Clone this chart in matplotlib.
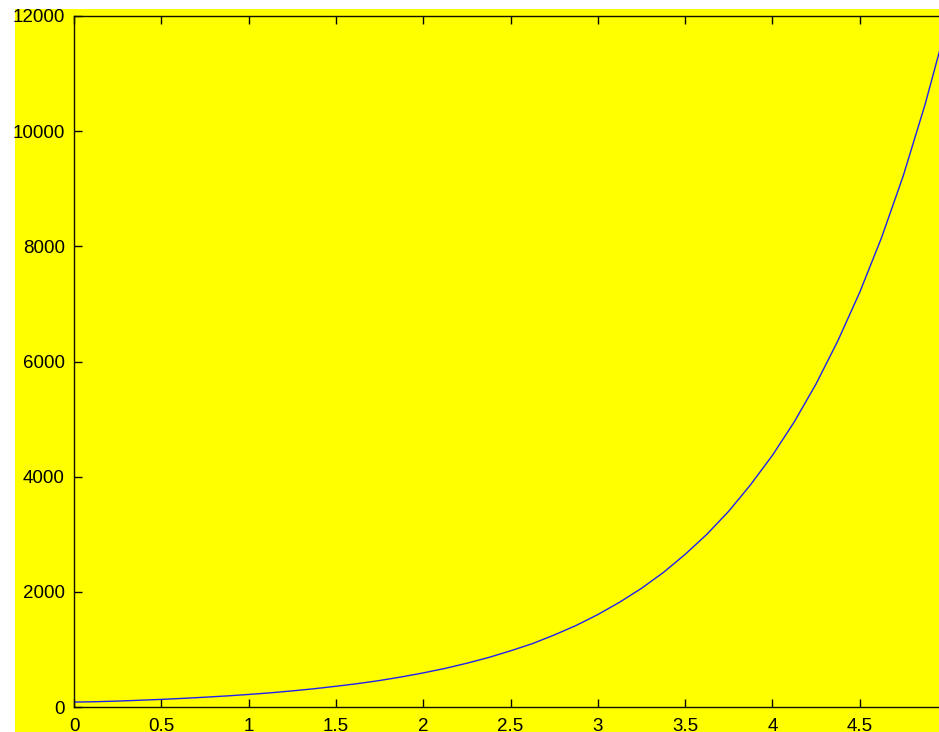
import numpy as np
import matplotlib
matplotlib.use('Agg')
import matplotlib.pyplot as plt
from matplotlib.patches import Rectangle

# values
x_vals = [0, 0.125, 0.25, 0.375, 0.5, 0.625, 0.75, 0.875, 1, 1.125, 1.25, 1.375,
          1.5, 1.625, 1.75, 1.875, 2, 2.125, 2.25, 2.375, 2.5, 2.625, 2.75, 2.875,
          3, 3.125, 3.25, 3.375, 3.5, 3.625, 3.75, 3.875, 4, 4.125, 4.25, 4.375,
          4.5, 4.625, 4.75, 4.875, 5]
y_vals = [85, 92, 103, 117, 132, 150, 170, 192, 218, 246, 280, 317,
          360, 406, 460, 522, 592, 670, 760, 860, 975, 1100, 1250, 1415,
          1605, 1820, 2060, 2335, 2650, 3000, 3400, 3860, 4370, 4950, 5610, 6360,
          7200, 8150, 9230, 10470, 11870]

x_ticks = [0, 0.5, 1, 1.5, 2, 2.5, 3, 3.5, 4, 4.5]
x_tick_labels = ['0', '0.5', '1', '1.5', '2', '2.5', '3', '3.5', '4', '4.5']
y_ticks = [0, 2000, 4000, 6000, 8000, 10000, 12000]
y_tick_labels = ['0', '2000', '4000', '6000', '8000', '10000', '12000']

plt.rcParams['font.family'] = ['Liberation Sans', 'DejaVu Sans']

fig = plt.figure(figsize=(9.39, 7.32), dpi=100, facecolor='white')
# yellow figure background (white strip on left and top)
fig.patches.append(Rectangle((15 / 939, 0), 1, (732 - 9) / 732,
                             transform=fig.transFigure, facecolor='#ffff00',
                             edgecolor='none', zorder=-10))

ax = fig.add_axes([74 / 939, 25 / 732, 873 / 939, 691 / 732])
ax.set_facecolor('#ffff00')

ax.plot(x_vals, y_vals, color='#2020f0', linewidth=1.0)

ax.set_xlim(0, 5)
ax.set_ylim(0, 12000)
ax.set_xticks(x_ticks, x_tick_labels)
ax.set_yticks(y_ticks, y_tick_labels)
ax.tick_params(direction='in', length=6, width=1.0, top=True, right=True,
               labelsize=13.5, colors='black')
ax.tick_params(axis='y', pad=6.5)
ax.tick_params(axis='x', pad=8)
for s in ax.spines.values():
    s.set_linewidth(1.0)
    s.set_color('#111100')

fig.savefig('out.png', dpi=100, facecolor=fig.get_facecolor())
